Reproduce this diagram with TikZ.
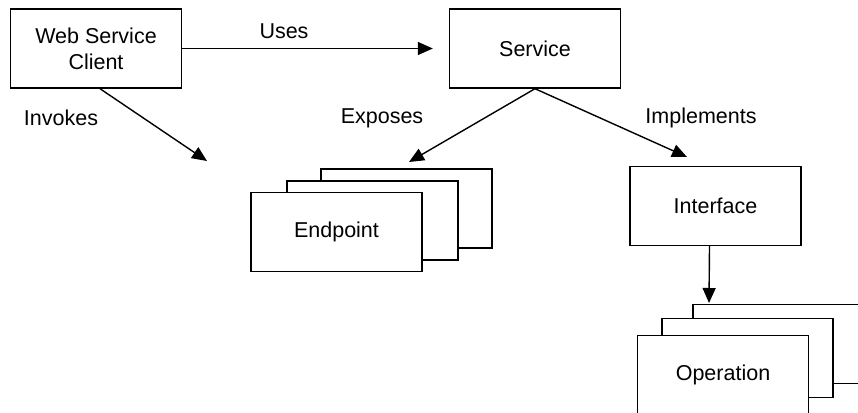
\documentclass[tikz,border=0pt]{standalone}
\usepackage{fontspec}
\setmainfont{Liberation Sans}
\usetikzlibrary{arrows.meta,positioning}
\definecolor{ink}{RGB}{0,0,0}
\tikzset{
  obj/.style={draw=ink,fill=white,line width=1.4pt,minimum width=171pt,
    minimum height=79pt,inner sep=0pt,align=center},
  arr/.style={-{Triangle[length=15pt,width=13pt]},line width=1.4pt,ink},
  lbl/.style={inner sep=0pt},
}

\begin{document}
\begin{tikzpicture}[x=1pt,y=-1pt,every node/.style={font=\fontsize{21.5}{26}\selectfont}]
\useasboundingbox (0,0) rectangle (858,412);
\clip (0,0) rectangle (858,412);
\node[obj] (client) at (96,48.5) {Web Service\\Client};
\node[obj] (service) at (535,48.5) {Service};
\node[obj] (iface) at (715.5,206) {Interface};
% endpoint stack
\node[obj] (endB) at (406.5,208.5) {};
\node[obj] (endM) at (372.5,220.5) {};
\node[obj] (endF) at (336.5,232) {Endpoint};
% operation stack
\node[obj] (opB) at (778.5,344) {};
\node[obj] (opM) at (747.5,358) {};
\node[obj] (opF) at (723,375) {Operation};
\coordinate (invk) at (207,161);
\coordinate (expo) at (409,162);
\coordinate (impl) at (687,157);
\coordinate (opin) at (709,303);
\draw[arr,shorten >=16pt] (client.east) -- (service.west);
\draw[arr] ([xshift=4pt]client.south) -- (invk);
\draw[arr] (service.south) -- (expo);
\draw[arr] (service.south) -- (impl);
\draw[arr] ([xshift=-6pt]iface.south) -- (opin);
\node[lbl] (usesL) at (284,31) {Uses};
\node[lbl] (invL) at (61,118) {Invokes};
\node[lbl] (expL) at (382,118) {Exposes};
\node[lbl] (impL) at (701,118) {Implements};
\end{tikzpicture}
\end{document}
